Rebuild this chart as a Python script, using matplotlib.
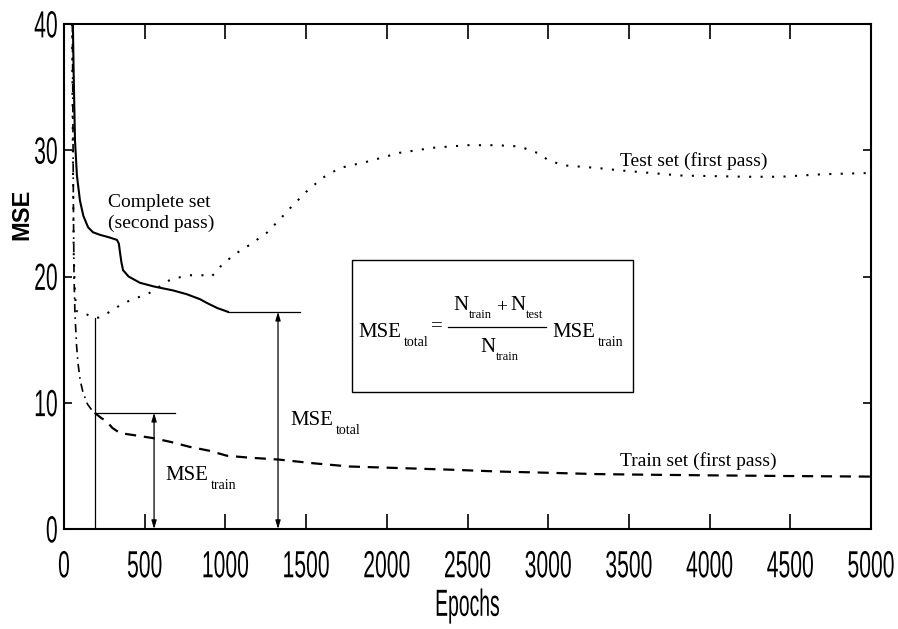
import numpy as np
import matplotlib
matplotlib.use('Agg')
import matplotlib.pyplot as plt
from matplotlib.patches import Rectangle
from matplotlib.patheffects import AbstractPathEffect
from matplotlib.transforms import Affine2D

# Data
test_epochs = [50, 55, 60, 66, 75, 100, 140, 190, 215, 270, 370, 530, 665, 780, 870, 915, 970,
               1050, 1150, 1260, 1350, 1400, 1500, 1600, 1710, 1880, 2080, 2290, 2500, 2680,
               2820, 2890, 2950, 3000, 3100, 3300, 3450, 3820, 4230, 4440, 4700, 5000]
test_mse = [40, 30, 22, 19.2, 17.3, 17.1, 17.0, 16.7, 16.75, 17.1, 17.9, 18.7, 19.8, 20.1, 20.1,
            20.0, 20.8, 21.7, 22.5, 23.5, 24.7, 25.4, 26.7, 27.8, 28.6, 29.1, 29.8, 30.2, 30.4,
            30.4, 30.3, 30.0, 29.7, 29.2, 28.8, 28.6, 28.4, 28.0, 27.9, 27.9, 28.1, 28.2]

complete_epochs = [55, 60, 68, 80, 99, 120, 149, 180, 223, 280, 328, 340, 347, 356, 366, 400,
                   471, 560, 675, 760, 843, 886, 950, 1016]
complete_mse = [40, 36, 30.8, 28, 26.0, 24.8, 23.9, 23.5, 23.3, 23.1, 22.9, 22.6, 21.9, 21.1,
                20.5, 20.0, 19.5, 19.2, 18.9, 18.6, 18.2, 17.9, 17.5, 17.2]

train_early_epochs = [52, 55, 58, 62, 68, 78, 87, 100, 118, 145, 173, 190]
train_early_mse = [40, 33, 26, 20, 17.0, 14.5, 13.1, 11.8, 10.8, 9.9, 9.4, 9.2]

train_epochs = [190, 230, 266, 300, 347, 450, 551, 660, 781, 900, 1010, 1150, 1330, 1550, 1770,
                2020, 2390, 2700, 3010, 3300, 3610, 4000, 4440, 5000]
train_mse = [9.2, 8.8, 8.5, 8.0, 7.6, 7.4, 7.2, 6.9, 6.5, 6.2, 5.8, 5.65, 5.5, 5.2, 4.95, 4.85,
             4.7, 4.55, 4.45, 4.35, 4.3, 4.25, 4.2, 4.15]

x_ticks = [0, 500, 1000, 1500, 2000, 2500, 3000, 3500, 4000, 4500, 5000]
y_ticks = [0, 10, 20, 30, 40]

# early stopping point = minimum of test curve
i_stop = int(np.argmin(test_mse))
stop_epoch = test_epochs[i_stop]
mse_test_stop = test_mse[i_stop]
mse_train_stop = train_mse[0]
mse_total = complete_mse[-1]


class Narrow(AbstractPathEffect):
    """stretch glyphs to get the tall condensed look of the original"""
    def __init__(self, sx=0.9, sy=1.6, anchor='center'):
        super().__init__()
        self.sx = sx
        self.sy = sy
        self.anchor = anchor

    def draw_path(self, renderer, gc, tpath, affine, rgbFace=None):
        v = tpath.vertices
        if len(v) == 0:
            return
        x0 = v[:, 0].max() if self.anchor == 'right' else (v[:, 0].min() + v[:, 0].max()) / 2
        y0 = (v[:, 1].min() + v[:, 1].max()) / 2
        squeeze = Affine2D().translate(-x0, -y0).scale(self.sx, self.sy).translate(x0, y0)
        renderer.draw_path(gc, tpath, squeeze + affine, rgbFace)


serif = 'Liberation Serif'
sans = 'Liberation Sans'

fig = plt.figure(figsize=(8.98, 6.29), dpi=100)
ax = fig.add_axes([64 / 898, 100 / 629, 807 / 898, 505 / 629])


# pixel position (from top-left of the picture) -> data, used for the formula layout
def px(x):
    return (x - 64) / 807 * 5000


def py(y):
    return (529 - y) / 505 * 40


def sub_text(x, y, main, sub, size=15, subsize=10, dx=3, dy=-9):
    t = ax.text(x, y, main, family=serif, fontsize=size, va='baseline')
    w = t.get_window_extent(fig.canvas.get_renderer()).width
    ax.annotate(sub, xy=(x, y), xytext=(w + dx, dy), textcoords='offset pixels',
                family=serif, fontsize=subsize, va='baseline')


ax.plot(test_epochs, test_mse, color='black', lw=1.5, linestyle=(0, (1, 4.5)))
ax.plot(complete_epochs, complete_mse, color='black', lw=1.5)
ax.plot(train_early_epochs, train_early_mse, color='black', lw=1.2, linestyle=(0, (5, 3, 1, 3)))
ax.plot(train_epochs, train_mse, color='black', lw=1.6, linestyle=(0, (5, 3.5)))

# construction lines
ax.plot([stop_epoch, stop_epoch], [0, mse_test_stop], color='black', lw=0.9)
ax.plot([stop_epoch, 690], [mse_train_stop, mse_train_stop], color='black', lw=0.9)
ax.plot([complete_epochs[-1], 1462], [mse_total, mse_total], color='black', lw=0.9)
arrow = dict(arrowstyle='<|-|>,head_length=0.5,head_width=0.15', color='black', lw=0.9,
             shrinkA=0, shrinkB=0)
ax.annotate('', xy=(558, 0), xytext=(558, mse_train_stop), arrowprops=arrow)
ax.annotate('', xy=(1326, 0), xytext=(1326, mse_total), arrowprops=arrow)

ax.text(273, 25.5, 'Complete set', family=serif, fontsize=14, va='baseline')
ax.text(273, 23.85, '(second pass)', family=serif, fontsize=14, va='baseline')
ax.text(3445, 28.75, 'Test set (first pass)', family=serif, fontsize=14, va='baseline')
ax.text(3445, 5.0, 'Train set (first pass)', family=serif, fontsize=14, va='baseline')
sub_text(626, 3.9, 'MSE', 'train')
sub_text(1400, 8.2, 'MSE', 'total')

# formula box
ax.add_patch(Rectangle((px(352), py(392)), px(633) - px(352), py(260) - py(392),
                       fill=False, edgecolor='black', lw=1))
sub_text(px(358), py(337), 'MSE', 'total')
ax.text(px(437), py(327), '=', family=serif, fontsize=15, ha='center', va='center')
ax.plot([px(448), px(546)], [py(327), py(327)], color='black', lw=0.9)
sub_text(px(453), py(310), 'N', 'train', subsize=9, dx=1, dy=-8)
ax.text(px(502), py(308), '+', family=serif, fontsize=14, ha='center', va='center')
sub_text(px(510), py(310), 'N', 'test', subsize=9, dx=1, dy=-8)
sub_text(px(480), py(352), 'N', 'train', subsize=9, dx=1, dy=-8)
sub_text(px(552), py(337), 'MSE', 'train')

ax.set_xlim(0, 5000)
ax.set_ylim(0, 40)
ax.set_xticks(x_ticks)
ax.set_yticks(y_ticks)
ax.set_xticklabels([str(t) for t in x_ticks])
ax.set_yticklabels([str(t) for t in y_ticks])
ax.tick_params(axis='x', direction='in', length=11, width=1.2, top=True, pad=19,
               labelsize=17)
ax.tick_params(axis='y', direction='in', length=6, width=1.2, right=True, pad=4.5,
               labelsize=17)
for lab in ax.get_xticklabels():
    lab.set_family(sans)
    lab.set_path_effects([Narrow(0.895, 1.6)])
for lab in ax.get_yticklabels():
    lab.set_family(sans)
    lab.set_path_effects([Narrow(0.895, 1.6, 'right')])
for sp in ax.spines.values():
    sp.set_linewidth(1.5)

ax.set_xlabel('Epochs', family=sans, fontsize=17, path_effects=[Narrow(0.82, 1.6)])
ax.xaxis.set_label_coords(0.5, -0.131)
ax.set_ylabel('MSE', family=sans, fontsize=17, fontweight='bold')
ax.yaxis.set_label_coords(-0.038, 0.624)

plt.savefig('out.png', dpi=100)
